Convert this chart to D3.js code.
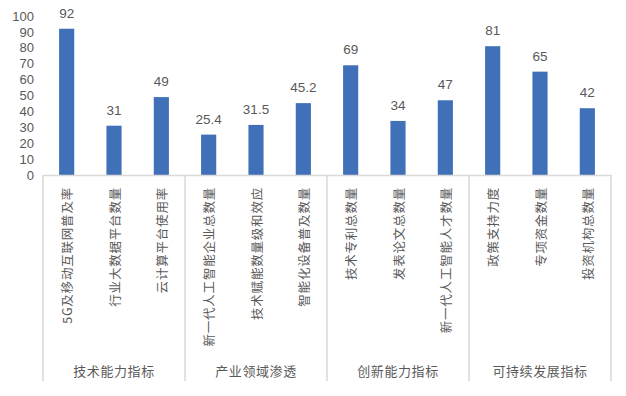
<!DOCTYPE html>
<html>
<head>
<meta charset="utf-8">
<script src="https://cdn.jsdelivr.net/npm/d3@7"></script>
<style>
  body { margin: 0; background: #fff; }
  svg text { fill: #595959; }
</style>
</head>
<body>
<div id="chart"></div>
<script>
const categories = [
    '5G及移动互联网普及率', '行业大数据平台数量', '云计算平台使用率',
    '新一代人工智能企业总数量', '技术赋能数量级和效应', '智能化设备普及数量',
    '技术专利总数量', '发表论文总数量', '新一代人工智能人才数量',
    '政策支持力度', '专项资金数量', '投资机构总数量'
];
const values = [92, 31, 49, 25.4, 31.5, 45.2, 69, 34, 47, 81, 65, 42];
const groups = ['技术能力指标', '产业领域渗透', '创新能力指标', '可持续发展指标'];
const yTicks = [0, 10, 20, 30, 40, 50, 60, 70, 80, 90, 100];

const width = 626, height = 396;
const plotLeft = 43, plotRight = 611, plotTop = 16, base = 175, plotBottom = 381;
const barColor = '#4070b8';
const lineColor = '#d9d9d9';
const numFont = '"Liberation Sans", Arial, sans-serif';
const cjkFont = '"Noto Sans CJK SC", sans-serif';

const svg = d3.select('#chart').append('svg')
    .attr('width', width)
    .attr('height', height);

const xScale = d3.scaleBand()
    .domain(categories)
    .range([plotLeft, plotRight])
    .paddingInner(0.68)
    .paddingOuter(0.34);

const yScale = d3.scaleLinear()
    .domain([0, 100])
    .range([base, plotTop]);

// y axis, labels only
const yAxis = d3.axisLeft(yScale)
    .tickValues(yTicks)
    .tickSize(0)
    .tickPadding(0);

svg.append('g')
    .attr('class', 'y-axis')
    .attr('transform', 'translate(34,0)')
    .call(yAxis)
    .call(g => g.select('.domain').remove())
    .selectAll('text')
    .attr('font-family', numFont)
    .attr('font-size', '13px')
    .style('fill', '#595959');

// bars
svg.selectAll('.bar')
    .data(values)
    .enter()
    .append('rect')
    .attr('class', 'bar')
    .attr('x', (d, i) => xScale(categories[i]))
    .attr('y', d => yScale(d))
    .attr('width', xScale.bandwidth())
    .attr('height', d => base - yScale(d))
    .attr('fill', barColor);

// value labels
svg.selectAll('.value-label')
    .data(values)
    .enter()
    .append('text')
    .attr('class', 'value-label')
    .attr('x', (d, i) => xScale(categories[i]) + xScale.bandwidth() / 2)
    .attr('y', d => yScale(d) - 11)
    .attr('text-anchor', 'middle')
    .attr('font-family', numFont)
    .attr('font-size', '13.5px')
    .text(d => d);

// category axis line
svg.append('line')
    .attr('x1', plotLeft)
    .attr('x2', plotRight)
    .attr('y1', base + 0.5)
    .attr('y2', base + 0.5)
    .attr('stroke', lineColor)
    .attr('stroke-width', 1.5);

// group separators
const groupWidth = (plotRight - plotLeft) / groups.length;
svg.selectAll('.sep')
    .data(d3.range(groups.length + 1))
    .enter()
    .append('line')
    .attr('class', 'sep')
    .attr('x1', i => plotLeft + i * groupWidth)
    .attr('x2', i => plotLeft + i * groupWidth)
    .attr('y1', base)
    .attr('y2', plotBottom)
    .attr('stroke', lineColor)
    .attr('stroke-width', 1.5);

// rotated category labels
svg.selectAll('.cat-label')
    .data(categories)
    .enter()
    .append('text')
    .attr('class', 'cat-label')
    .attr('transform', d => `translate(${xScale(d) + xScale.bandwidth() / 2},187) rotate(-90)`)
    .attr('text-anchor', 'end')
    .attr('dominant-baseline', 'central')
    .attr('font-family', cjkFont)
    .attr('font-size', '12.5px')
    .attr('letter-spacing', '0.8px')
    .text(d => d);

// group labels
svg.selectAll('.group-label')
    .data(groups)
    .enter()
    .append('text')
    .attr('class', 'group-label')
    .attr('x', (d, i) => plotLeft + (i + 0.5) * groupWidth)
    .attr('y', 370)
    .attr('text-anchor', 'middle')
    .attr('dominant-baseline', 'central')
    .attr('font-family', cjkFont)
    .attr('font-size', '13px')
    .attr('letter-spacing', '0.6px')
    .text(d => d);
</script>
</body>
</html>
